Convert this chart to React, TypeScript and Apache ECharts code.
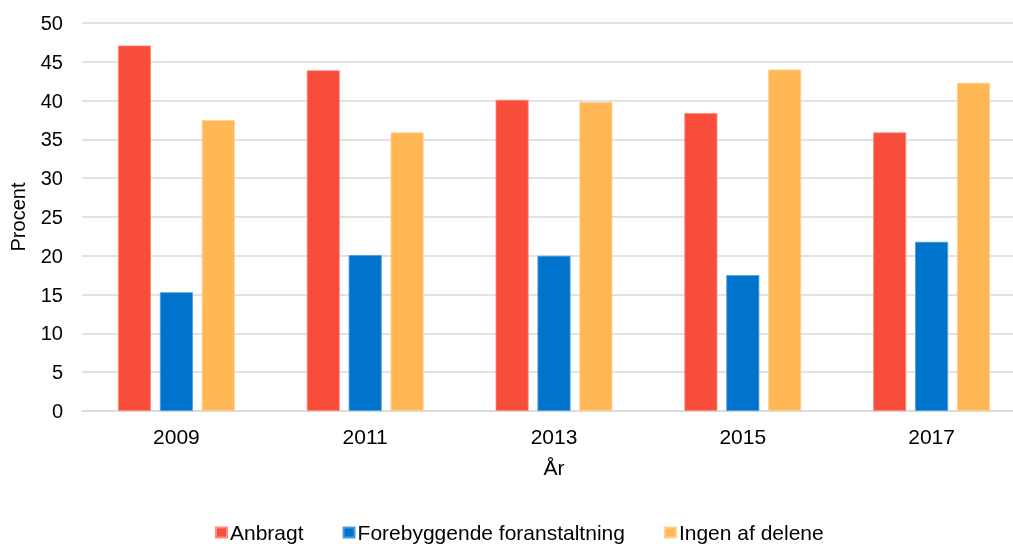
import React, { useEffect, useRef } from "react";
import * as echarts from "echarts";

const years = ["2009", "2011", "2013", "2015", "2017"];
const anbragt = [47.1, 43.9, 40.1, 38.4, 35.9];
const forebyggende = [15.3, 20.1, 20.0, 17.5, 21.8];
const ingen = [37.5, 35.9, 39.8, 44.0, 42.3];
const seriesNames = ["Anbragt", "Forebyggende foranstaltning", "Ingen af delene"];
const colors = ["#F84D3B", "#0073CC", "#FFB855"];
const borders = ["#FF8A7E", "#4A9BE0", "#FFD08F"];

export default function App() {
  const ref = useRef<HTMLDivElement>(null);
  useEffect(() => {
    if (!ref.current) return;
    const chart = echarts.init(ref.current, null, { renderer: "svg" });
    const font = "'Liberation Sans', Arial, sans-serif";
    const data = [anbragt, forebyggende, ingen];
    chart.setOption({
      animation: false,
      textStyle: { fontFamily: font },
      grid: { left: 81, right: 0, top: 23, bottom: 133 },
      legend: {
        top: 522,
        left: 215,
        padding: 0,
        itemWidth: 11,
        itemHeight: 10,
        itemGap: 39,
        icon: "rect",
        textStyle: { fontSize: 21, color: "#000", fontFamily: font, padding: [0, 0, 0, -2] },
        data: seriesNames,
      },
      xAxis: {
        type: "category",
        data: years,
        name: "År",
        nameLocation: "middle",
        nameGap: 46,
        nameTextStyle: { fontSize: 21, color: "#000", fontFamily: font },
        axisLine: { show: true, lineStyle: { color: "#d9d9d9", width: 1.5 } },
        axisTick: { show: false },
        axisLabel: { fontSize: 21, color: "#000", margin: 15, fontFamily: font },
      },
      yAxis: {
        type: "value",
        min: 0,
        max: 50,
        interval: 5,
        name: "Procent",
        nameLocation: "middle",
        nameGap: 54,
        nameTextStyle: { fontSize: 20, color: "#000", fontFamily: font },
        axisLine: { show: false },
        axisTick: { show: false },
        axisLabel: { fontSize: 20, color: "#000", margin: 19, fontFamily: font },
        splitLine: { lineStyle: { color: "#d9d9d9", width: 1.5 } },
      },
      series: seriesNames.map((name, i) => ({
        name,
        type: "bar",
        data: data[i],
        barWidth: 33,
        barGap: "27%",
        itemStyle: { color: colors[i], borderColor: borders[i], borderWidth: 0.8 },
      })),
    });
    return () => chart.dispose();
  }, []);
  return (
    <div
      style={{
        position: "fixed",
        left: 0,
        top: 0,
        width: 1013,
        height: 544,
        overflow: "hidden",
      }}
    >
      <div ref={ref} style={{ width: 1026, height: 544 }} />
    </div>
  );
}
